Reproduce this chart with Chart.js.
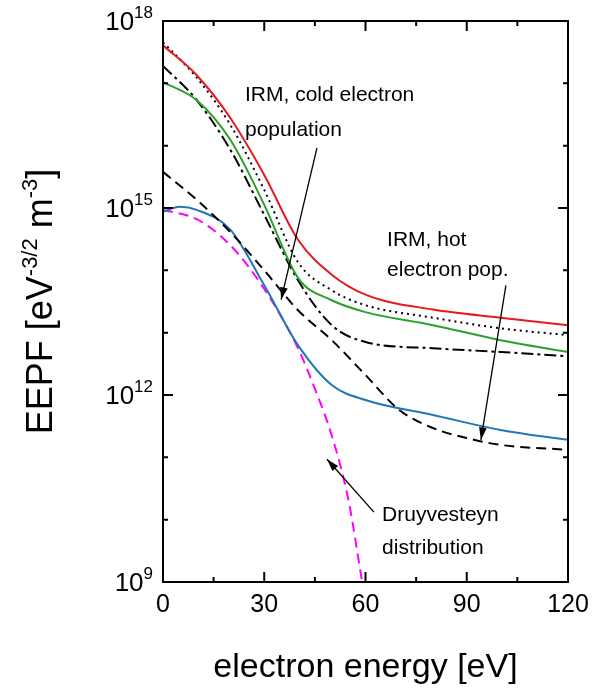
<!DOCTYPE html>
<html lang="en">
<head>
<meta charset="UTF-8">
<title>EEPF</title>
<script src="https://cdn.jsdelivr.net/npm/chart.js"></script>
<style>
  * { margin: 0; padding: 0; }
  body { background: #fff; }
  #wrap { width: 600px; height: 692px; }
</style>
</head>
<body>
<div id="wrap"><canvas id="eepf"></canvas></div>
<script>
// values are log10(EEPF)
const energyRed = [0, 10, 20, 30, 40, 50, 60, 80, 100, 120];
const logRed = [17.61, 17.13, 16.44, 15.53, 14.49, 13.93, 13.61, 13.37, 13.24, 13.12];
const energyDot = [0, 10, 20, 30, 40, 50, 60, 80, 100, 120];
const logDot = [17.66, 17.09, 16.33, 15.29, 14.13, 13.68, 13.44, 13.24, 13.07, 12.96];
const energyGreen = [0, 10, 20, 30, 40, 50, 60, 80, 100, 120];
const logGreen = [17.02, 16.73, 16.09, 15.05, 13.88, 13.52, 13.33, 13.12, 12.88, 12.69];
const energyDashDot = [0, 10, 20, 30, 40, 50, 60, 80, 100, 120];
const logDashDot = [17.28, 16.73, 15.93, 14.89, 13.84, 13.12, 12.85, 12.75, 12.69, 12.62];
const energyCold = [0, 10, 20, 30, 40, 50, 60, 70, 80, 90, 100, 120];
const logCold = [15.58, 15.13, 14.61, 14.0, 13.36, 12.88, 12.32, 11.76, 11.47, 11.31, 11.2, 11.12];
const energyBlue = [0, 5, 10, 20, 30, 40, 50, 60, 80, 100, 120];
const logBlue = [14.94, 15.02, 14.97, 14.65, 13.76, 12.8, 12.16, 11.92, 11.68, 11.44, 11.28];
const energyDruy = [0, 10, 20, 30, 40, 45, 50, 55, 59];
const logDruy = [14.97, 14.82, 14.4, 13.7, 12.75, 12.1, 11.35, 10.3, 9.0];
const yMajorExponents = [9, 12, 15, 18];

const FONT = '"Liberation Sans", Arial, sans-serif';

function pts(xs, ys) { return xs.map((x, i) => ({ x: x, y: ys[i] })); }

function line(xs, ys, color, dash) {
    return { data: pts(xs, ys), borderColor: color, borderWidth: 2, borderDash: dash || [],
             pointRadius: 0, cubicInterpolationMode: 'monotone', fill: false };
}

// notes and arrows, in data coordinates
const notes = [
    { x: 24.3, y: 16.81, text: 'IRM, cold electron' },
    { x: 24.3, y: 16.25, text: 'population' },
    { x: 66.4, y: 14.49, text: 'IRM, hot' },
    { x: 66.4, y: 14.0, text: 'electron pop.' },
    { x: 64.9, y: 10.07, text: 'Druyvesteyn' },
    { x: 64.9, y: 9.55, text: 'distribution' }
];
const arrows = [
    { x1: 45.6, y1: 15.96, x2: 35.0, y2: 13.53 },
    { x1: 101.6, y1: 13.76, x2: 94.2, y2: 11.28 },
    { x1: 62.5, y1: 10.12, x2: 48.6, y2: 10.97 }
];

// draws text pieces in a row, some raised as superscripts
function runs(ctx, x, y, parts) {
    parts.forEach(p => {
        ctx.font = p[2] + 'px ' + FONT;
        ctx.fillText(p[0], x, y - p[1]);
        x += ctx.measureText(p[0]).width;
    });
    return x;
}
function runsWidth(ctx, parts) {
    let w = 0;
    parts.forEach(p => { ctx.font = p[2] + 'px ' + FONT; w += ctx.measureText(p[0]).width; });
    return w;
}

const decor = {
    id: 'decor',
    afterDraw(chart) {
        const ctx = chart.ctx, a = chart.chartArea;
        const xs = chart.scales.x, ys = chart.scales.y;
        ctx.save();
        ctx.strokeStyle = '#000';
        ctx.lineWidth = 2;
        ctx.strokeRect(a.left, a.top, a.right - a.left, a.bottom - a.top);
        for (let v = 0; v <= 120; v += 15) {
            const p = xs.getPixelForValue(v), len = v % 30 === 0 ? 10 : 5;
            ctx.beginPath();
            ctx.moveTo(p, a.bottom); ctx.lineTo(p, a.bottom - len);
            ctx.moveTo(p, a.top); ctx.lineTo(p, a.top + len);
            ctx.stroke();
        }
        for (let v = 9; v <= 18; v++) {
            const p = ys.getPixelForValue(v), len = v % 3 === 0 ? 10 : 5;
            ctx.beginPath();
            ctx.moveTo(a.left, p); ctx.lineTo(a.left + len, p);
            ctx.moveTo(a.right, p); ctx.lineTo(a.right - len, p);
            ctx.stroke();
        }
        ctx.fillStyle = '#000';
        ctx.textBaseline = 'alphabetic';
        // y tick labels 10^n
        yMajorExponents.forEach(e => {
            const parts = [['10', 0, 26], [String(e), 12, 17]];
            const w = runsWidth(ctx, parts);
            runs(ctx, a.left - 10 - w, ys.getPixelForValue(e) + 9, parts);
        });
        // y axis title, rotated
        ctx.save();
        ctx.translate(52, (a.top + a.bottom) / 2);
        ctx.rotate(-Math.PI / 2);
        const tparts = [['EEPF [eV', 0, 36], ['-3/2', 15, 22], [' m', 0, 36], ['-3', 15, 22], [']', 0, 36]];
        runs(ctx, -runsWidth(ctx, tparts) / 2, 0, tparts);
        ctx.restore();

        ctx.font = '21px ' + FONT;
        ctx.textBaseline = 'middle';
        notes.forEach(n => ctx.fillText(n.text, xs.getPixelForValue(n.x), ys.getPixelForValue(n.y)));
        ctx.lineWidth = 1.3;
        arrows.forEach(r => {
            const x1 = xs.getPixelForValue(r.x1), y1 = ys.getPixelForValue(r.y1);
            const x2 = xs.getPixelForValue(r.x2), y2 = ys.getPixelForValue(r.y2);
            const ang = Math.atan2(y2 - y1, x2 - x1);
            ctx.beginPath(); ctx.moveTo(x1, y1); ctx.lineTo(x2, y2); ctx.stroke();
            ctx.beginPath();
            ctx.moveTo(x2, y2);
            ctx.lineTo(x2 - 13 * Math.cos(ang - 0.3), y2 - 13 * Math.sin(ang - 0.3));
            ctx.lineTo(x2 - 13 * Math.cos(ang + 0.3), y2 - 13 * Math.sin(ang + 0.3));
            ctx.closePath(); ctx.fill();
        });
        ctx.restore();
    }
};

new Chart(document.getElementById('eepf'), {
    type: 'line',
    data: {
        datasets: [
            line(energyRed, logRed, '#e41a1c'),
            line(energyDot, logDot, '#000', [2, 4]),
            line(energyGreen, logGreen, '#2ca02c'),
            line(energyDashDot, logDashDot, '#000', [12, 4, 3, 4]),
            line(energyCold, logCold, '#000', [10, 6]),
            line(energyBlue, logBlue, '#1f77b4'),
            line(energyDruy, logDruy, '#ff00ff', [10, 6])
        ]
    },
    options: {
        responsive: true,
        maintainAspectRatio: false,
        animation: false,
        layout: { padding: { top: 21, right: 32 } },
        plugins: { legend: { display: false }, tooltip: { enabled: false } },
        scales: {
            x: {
                type: 'linear', min: 0, max: 120,
                grid: { display: false, drawTicks: false },
                border: { display: false },
                ticks: { stepSize: 30, color: '#000', padding: 8, font: { size: 25, family: FONT } },
                title: { display: true, text: 'electron energy [eV]', color: '#000',
                         font: { size: 34, family: FONT }, padding: { top: 4 } },
                afterFit(s) { s.height = 110; }
            },
            y: {
                type: 'linear', min: 9, max: 18,
                grid: { display: false, drawTicks: false },
                border: { display: false },
                ticks: { stepSize: 1, display: false },
                afterFit(s) { s.width = 163; }
            }
        }
    },
    plugins: [decor]
});
</script>
</body>
</html>
